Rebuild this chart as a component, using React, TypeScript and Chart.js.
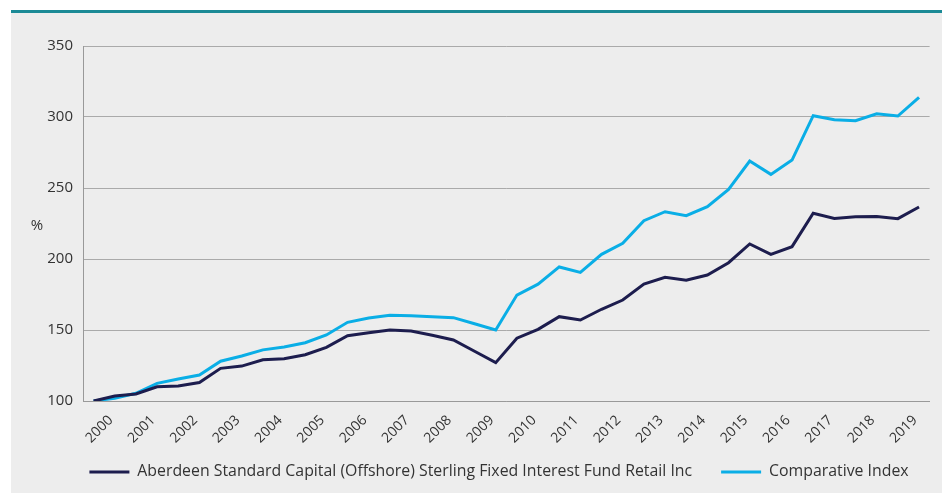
import React, { useEffect, useRef } from "react";
import { Chart, registerables } from "chart.js";

Chart.register(...registerables);

const years = [2000, 2001, 2002, 2003, 2004, 2005, 2006, 2007, 2008, 2009, 2010, 2011, 2012, 2013, 2014, 2015, 2016, 2017, 2018, 2019];

const fundValues = [
  100, 103.5, 105, 110, 110.5, 113, 123, 124.6, 129, 129.8,
  132.6, 137.8, 146, 148, 150, 149.3, 146.3, 143, 135, 127,
  144.2, 150.5, 159.4, 157, 164.6, 171.1, 182.3, 187.1, 185, 188.7,
  197.4, 210.6, 203.3, 208.7, 232.2, 228.6, 229.8, 230, 228.4, 236.6,
];

const indexValues = [
  100, 102, 105.4, 112.4, 115.5, 118.3, 128, 131.7, 136, 138,
  141, 146.5, 155.4, 158.5, 160.3, 160, 159.4, 158.7, 154.4, 150,
  174.6, 182.3, 194.4, 190.6, 203.3, 211, 227, 233.3, 230.5, 236.8,
  249, 269, 259.6, 269.7, 300.9, 298.1, 297.4, 302.3, 300.7, 313.9,
];

const seriesNames = [
  "Aberdeen Standard Capital (Offshore) Sterling Fixed Interest Fund Retail Inc",
  "Comparative Index",
];

const yTicks = [100, 150, 200, 250, 300, 350];

// two points per year; the year label sits on the second point of each year
const categories: string[] = [];
years.forEach((y) => {
  categories.push("");
  categories.push(String(y));
});

const FONT = "'Open Sans', 'DejaVu Sans', sans-serif";

const LEGEND_CENTER_X = 488;
const LEGEND_TOP = 422;

const helperPlugin = {
  id: "helper",
  afterLayout(chart: any) {
    const lg = chart.legend;
    if (!lg) return;
    const w = lg.right - lg.left;
    lg.left = LEGEND_CENTER_X - w / 2;
    lg.right = lg.left + w;
    lg.top = LEGEND_TOP;
    lg.bottom = lg.top + 58;
    lg.height = 58;
  },
  afterDraw(chart: any) {
    const { ctx, chartArea } = chart;
    ctx.save();
    ctx.font = `15px ${FONT}`;
    ctx.fillStyle = "#333333";
    ctx.textAlign = "center";
    ctx.textBaseline = "middle";
    ctx.fillText("%", chartArea.left - 46, (chartArea.top + chartArea.bottom) / 2 + 2);
    ctx.restore();
  },
};

export default function App() {
  const ref = useRef<HTMLCanvasElement | null>(null);

  useEffect(() => {
    if (!ref.current) return;
    const chart = new Chart(ref.current, {
      type: "line",
      data: {
        labels: categories,
        datasets: [
          {
            label: seriesNames[0],
            data: fundValues,
            borderColor: "#1d1d4e",
            backgroundColor: "#1d1d4e",
            borderWidth: 3,
            pointRadius: 0,
            tension: 0,
          },
          {
            label: seriesNames[1],
            data: indexValues,
            borderColor: "#0aaee6",
            backgroundColor: "#0aaee6",
            borderWidth: 3,
            pointRadius: 0,
            tension: 0,
          },
        ],
      },
      options: {
        animation: false,
        responsive: false,
        maintainAspectRatio: false,
        layout: { padding: { left: 36, right: 7, top: 33, bottom: 0 } },
        plugins: {
          tooltip: { enabled: false },
          legend: {
            position: "bottom",
            maxHeight: 40,
            labels: {
              font: { family: FONT, size: 15.85 },
              color: "#333333",
              boxWidth: 40,
              boxHeight: 3,
              padding: 29,
              generateLabels: (c: any) =>
                c.data.datasets.map((d: any, i: number) => ({
                  text: d.label,
                  fillStyle: d.borderColor,
                  strokeStyle: d.borderColor,
                  lineWidth: 0,
                  datasetIndex: i,
                  fontColor: "#333333",
                })),
            },
          },
        },
        scales: {
          x: {
            type: "category",
            offset: true,
            afterFit: (s: any) => {
              s.height = 52;
            },
            grid: { display: false, drawTicks: false },
            border: { display: true, color: "#999999", width: 1 },
            ticks: {
              autoSkip: false,
              maxRotation: 45,
              minRotation: 45,
              padding: 11,
              labelOffset: -4,
              color: "#333333",
              font: { family: FONT, size: 14 },
            },
          },
          y: {
            min: 100,
            max: 350,
            afterFit: (s: any) => {
              s.width = 36;
            },
            afterBuildTicks: (s: any) => {
              s.ticks = yTicks.map((v) => ({ value: v }));
            },
            grid: { color: "#aaaaaa", lineWidth: 1, drawTicks: false },
            border: { display: true, color: "#999999", width: 1 },
            ticks: {
              padding: 10,
              color: "#333333",
              font: { family: FONT, size: 15 },
            },
          },
        },
      },
      plugins: [helperPlugin],
    });
    return () => chart.destroy();
  }, []);

  return (
    <div
      style={{
        position: "absolute",
        left: 11,
        top: 10,
        width: 931,
        height: 483,
        borderTop: "3px solid #1b8a96",
        background: "#ededed",
        boxSizing: "border-box",
      }}
    >
      <canvas ref={ref} width={931} height={480} style={{ display: "block", width: 931, height: 480 }} />
    </div>
  );
}
